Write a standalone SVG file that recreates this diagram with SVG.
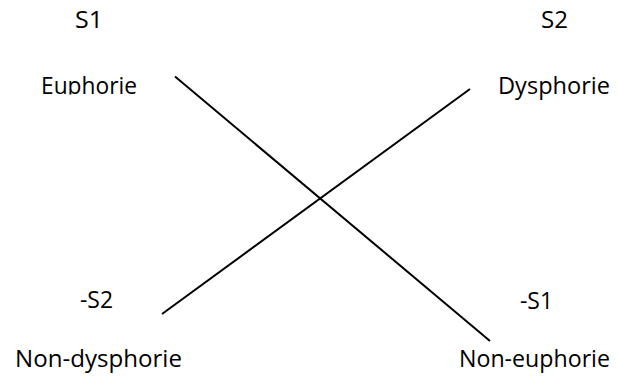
<svg xmlns="http://www.w3.org/2000/svg" width="618" height="382" viewBox="0 0 618 382">
<style>
.t{font-family:"Open Sans","Noto Sans","Liberation Sans",sans-serif;fill:#000;font-size:23px}
.c{stroke:#000;stroke-width:2;fill:none}
</style>
<defs>
<clipPath id="clipE"><rect x="0" y="0" width="200" height="94.5"/></clipPath>
</defs>
<rect width="618" height="382" fill="#fff"/>
<g id="connectors">
<line class="c" x1="175" y1="76.5" x2="490" y2="341"/>
<line class="c" x1="470" y1="89" x2="162" y2="314"/>
</g>
<g id="s1"><text class="t" x="75" y="28" textLength="28" lengthAdjust="spacingAndGlyphs">S1</text></g>
<g id="euphorie" clip-path="url(#clipE)"><text class="t" x="41" y="94" textLength="96" lengthAdjust="spacingAndGlyphs">Euphorie</text></g>
<g id="s2"><text class="t" x="541" y="28" textLength="27" lengthAdjust="spacingAndGlyphs">S2</text></g>
<g id="dysphorie"><text class="t" x="498" y="94" textLength="112" lengthAdjust="spacingAndGlyphs">Dysphorie</text></g>
<g id="neg-s2"><text class="t" x="80" y="308" textLength="33" lengthAdjust="spacingAndGlyphs">-S2</text></g>
<g id="non-dysphorie"><text class="t" x="15" y="367" textLength="167" lengthAdjust="spacingAndGlyphs">Non-dysphorie</text></g>
<g id="neg-s1"><text class="t" x="520" y="309" textLength="33" lengthAdjust="spacingAndGlyphs">-S1</text></g>
<g id="non-euphorie"><text class="t" x="459" y="367" textLength="151" lengthAdjust="spacingAndGlyphs">Non-euphorie</text></g>
</svg>
